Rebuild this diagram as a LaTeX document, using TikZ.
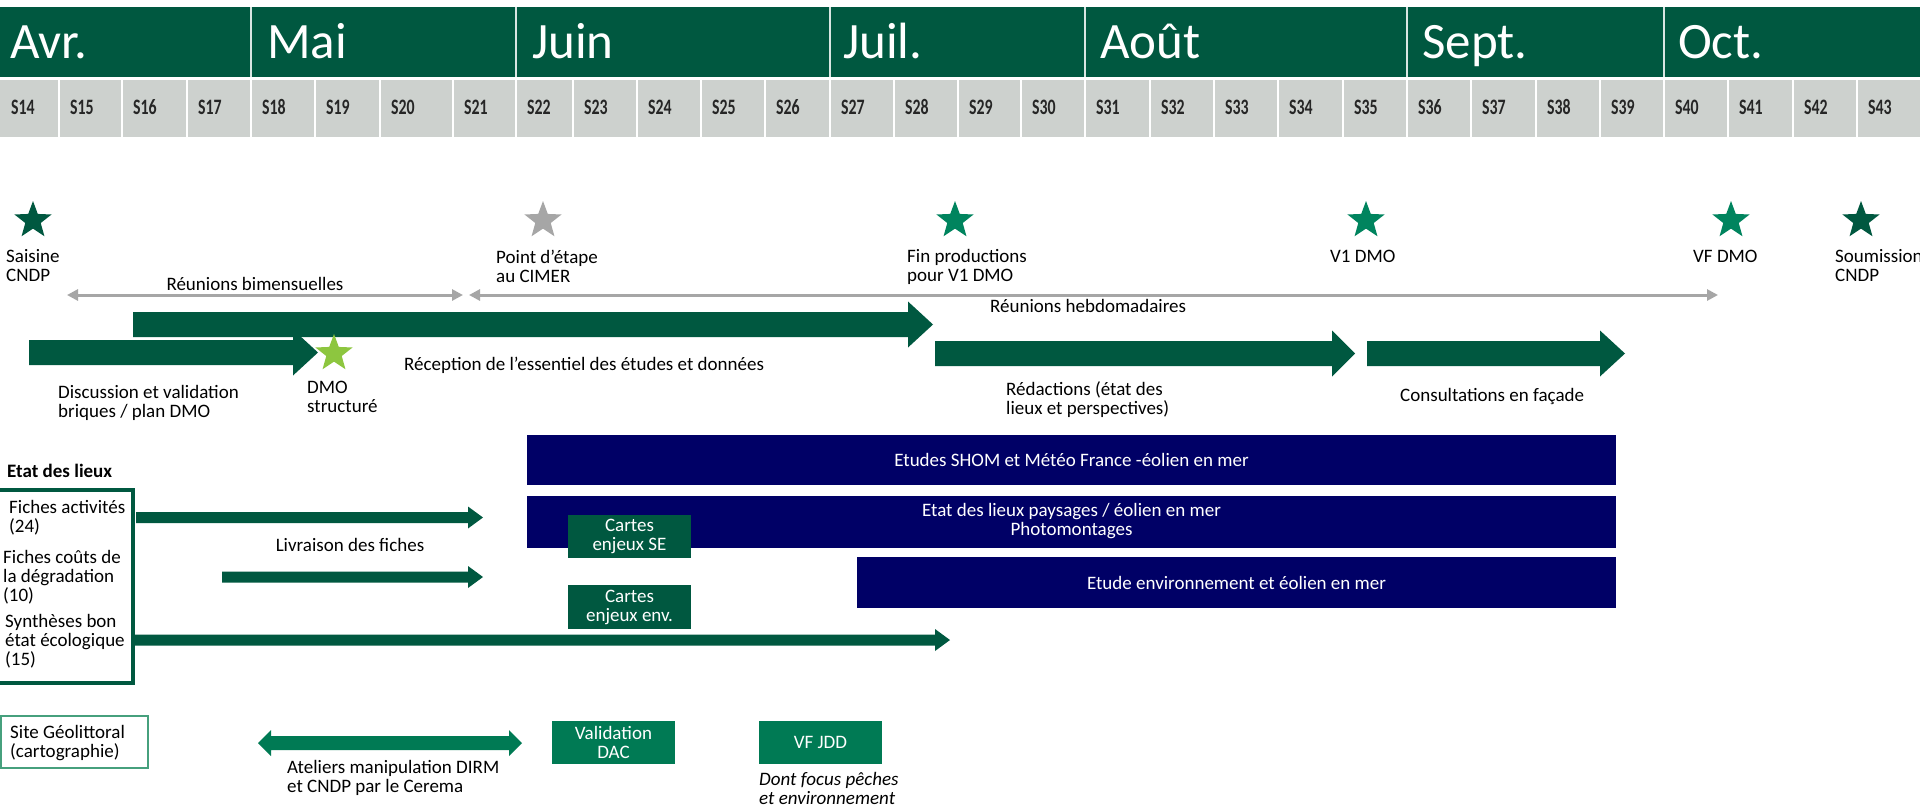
\documentclass[tikz,border=0pt]{standalone}
\usepackage{fontspec}
\usepackage{graphicx}
\setmainfont{Carlito}
\usetikzlibrary{shapes.geometric,arrows.meta}
\definecolor{dkgreen}{RGB}{0,88,64}
\definecolor{mdgreen}{RGB}{0,122,84}
\definecolor{stargreen}{RGB}{0,132,94}
\definecolor{ltgreen}{RGB}{141,198,63}
\definecolor{stargray}{RGB}{166,166,166}
\definecolor{navy}{RGB}{0,0,102}
\definecolor{bandgray}{RGB}{205,209,206}
\definecolor{sitegreen}{RGB}{70,160,125}
\newcommand{\bodyfont}{\fontsize{19}{19}\selectfont}
\newcommand{\monthfont}{\fontsize{51}{51}\selectfont}
\newcommand{\weekfont}{\fontsize{22}{22}\selectfont\bfseries}
\newcommand{\blkarrow}[7]{\fill[#1] (#2,#4-#5) -- (#3-#7,#4-#5) -- (#3-#7,#4-#6) -- (#3,#4) -- (#3-#7,#4+#6) -- (#3-#7,#4+#5) -- (#2,#4+#5) -- cycle;}
\tikzset{
  bodytxt/.style={font=\bodyfont, align=left, inner sep=0pt, text=black},
  monthlbl/.style={font=\monthfont, text=white, inner sep=0pt},
  weeklbl/.style={font=\weekfont, text=black!85, inner sep=0pt},
  starbase/.style={star, star points=5, star point ratio=2.4, minimum size=39pt, inner sep=0pt},
  navybar/.style={fill=navy, text=white, font=\bodyfont, align=center, inner sep=0pt},
  grbox/.style={fill=dkgreen, text=white, font=\bodyfont, align=center, inner sep=0pt, minimum width=123pt},
  mdbox/.style={fill=mdgreen, text=white, font=\bodyfont, align=center, inner sep=0pt, minimum width=123pt, minimum height=43pt},
  grayarr/.style={draw=stargray, line width=3pt, {Triangle[length=11pt,width=11pt]}-{Triangle[length=11pt,width=11pt]}}
}
\begin{document}
\begin{tikzpicture}[x=1pt,y=-1pt]
\useasboundingbox (0,0) rectangle (1920,807);
\fill[white] (0,0) rectangle (1920,807);
% header bands
\fill[dkgreen] (0,7) rectangle (1920,77);
\fill[bandgray] (0,80) rectangle (1920,137);
\foreach \x in {251,516,830,1085,1407,1664}
  \draw[white!85!dkgreen, line width=2pt] (\x,7) -- (\x,77);
\foreach \x in {59,122,187,251,315,380,453,516,573,637,701,765,830,894,958,1021,1085,1150,1214,1278,1343,1407,1471,1536,1600,1664,1728,1793,1857}
  \draw[white, line width=2.5pt] (\x,80) -- (\x,137);
\node[monthlbl, anchor=base west] (mavr) at (10,58) {Avr.};
\node[monthlbl, anchor=base west] (mmai) at (267,58) {Mai};
\node[monthlbl, anchor=base west] (mjuin) at (532,58) {Juin};
\node[monthlbl, anchor=base west] (mjuil) at (843,58) {Juil.};
\node[monthlbl, anchor=base west] (maout) at (1100,58) {Août};
\node[monthlbl, anchor=base west] (msept) at (1422,58) {Sept.};
\node[monthlbl, anchor=base west] (moct) at (1678,58) {Oct.};
\foreach \x [count=\i from 14] in {0,59,122,187,251,315,380,453,516,573,637,701,765,830,894,958,1021,1085,1150,1214,1278,1343,1407,1471,1536,1600,1664,1728,1793,1857}
  \node[weeklbl, anchor=west] (w\i) at (\x+11,107) {\scalebox{0.72}[1]{S\i}};
% stars
\node[starbase, fill=dkgreen] (s1) at (33,220.5) {};
\node[starbase, fill=stargray] (s2) at (543,220.5) {};
\node[starbase, fill=stargreen] (s3) at (955,220.5) {};
\node[starbase, fill=stargreen] (s4) at (1366,220.5) {};
\node[starbase, fill=stargreen] (s5) at (1731,220.5) {};
\node[starbase, fill=dkgreen] (s6) at (1861,220.5) {};
\node[bodytxt, anchor=base west] (t1) at (6,281) {Saisine\\CNDP};
\node[bodytxt, anchor=base west] (t2) at (496,282) {Point d’étape\\au CIMER};
\node[bodytxt, anchor=base west] (t3) at (907,281) {Fin productions\\pour V1 DMO};
\node[bodytxt, anchor=base west] (t4) at (1330,262) {V1 DMO};
\node[bodytxt, anchor=base west] (t5) at (1693,262) {VF DMO};
\node[bodytxt, anchor=base west] (t6) at (1835,281) {Soumission\\CNDP};
% meeting arrows
\coordinate (rb1) at (67,295);
\coordinate (rb2) at (463,295);
\coordinate (rh1) at (469,295);
\coordinate (rh2) at (1718,295);
\draw[grayarr] (rb1) -- (rb2);
\draw[grayarr] (rh1) -- (rh2);
\node[bodytxt, anchor=base] (lbim) at (255,290) {Réunions bimensuelles};
\node[bodytxt, anchor=base west] (lheb) at (990,312) {Réunions hebdomadaires};
% big arrows
\blkarrow{dkgreen}{29}{318}{352.5}{12.5}{23}{25}
\blkarrow{dkgreen}{133}{933}{324.5}{12.5}{23}{25}
\blkarrow{dkgreen}{935}{1355}{353.5}{12.5}{23}{23}
\blkarrow{dkgreen}{1367}{1625}{353.5}{12.5}{23}{25}
\node[starbase, fill=ltgreen] (s7) at (334,353.5) {};
\node[bodytxt, anchor=base west] (lrec) at (404,370) {Réception de l’essentiel des études et données};
\node[bodytxt, anchor=base west] (ldmo) at (307,412) {DMO\\structuré};
\node[bodytxt, anchor=base west] (ldisc) at (58,417) {Discussion et validation\\briques / plan DMO};
\node[bodytxt, anchor=base west] (lred) at (1006,414) {Rédactions (état des\\lieux et perspectives)};
\node[bodytxt, anchor=base west] (lcons) at (1400,401) {Consultations en façade};
% navy bars
\node[navybar, minimum width=1089pt, minimum height=50pt] (bar1) at (1071.5,460) {Etudes SHOM et Météo France -éolien en mer};
\node[navybar, minimum width=1089pt, minimum height=52pt] (bar2) at (1071.5,521.5) {Etat des lieux paysages / éolien en mer\\Photomontages};
\node[navybar, minimum width=759pt, minimum height=51pt] (bar3) at (1236.5,582.5) {Etude environnement et éolien en mer};
\node[grbox, minimum height=43pt] (cse) at (629.5,536.5) {Cartes\\enjeux SE};
\node[grbox, minimum height=44pt] (cenv) at (629.5,607) {Cartes\\enjeux env.};
% etat des lieux
\node[font=\bodyfont\bfseries, anchor=base west, inner sep=0pt] (ledl) at (7,477) {Etat des lieux};
\node[draw=dkgreen, line width=4pt, minimum width=138pt, minimum height=193pt, inner sep=0pt] (etatbox) at (64,586.5) {};
\node[bodytxt, anchor=base west] (lfa) at (9,532) {Fiches activités\\(24)};
\node[bodytxt, anchor=base west] (lfc) at (3,601) {Fiches coûts de\\la dégradation\\(10)};
\node[bodytxt, anchor=base west] (lsy) at (5,665) {Synthèses bon\\état écologique\\(15)};
\blkarrow{dkgreen}{136}{483}{517.5}{5.5}{11}{15}
\blkarrow{dkgreen}{222}{483}{577}{5.5}{11}{15}
\blkarrow{dkgreen}{131}{950}{640}{5.5}{11}{15}
\node[bodytxt, anchor=base] (lliv) at (350,551) {Livraison des fiches};
% bottom row
\node[draw=sitegreen, line width=2pt, fill=white, minimum width=147pt, minimum height=52pt, inner sep=0pt] (site) at (74.5,742) {};
\node[bodytxt, anchor=base west] (lsite) at (10,757) {Site Géolittoral\\(cartographie)};
\fill[mdgreen] (258,743) -- (271,730) -- (271,736) -- (509,736) -- (509,730) -- (522,743) -- (509,756) -- (509,750) -- (271,750) -- (271,756) -- cycle;
\node[bodytxt, anchor=base west] (latel) at (287,792) {Ateliers manipulation DIRM\\et CNDP par le Cerema};
\node[mdbox] (vdac) at (613.5,742.5) {Validation\\DAC};
\node[mdbox] (vjdd) at (820.5,742.5) {VF JDD};
\node[bodytxt, anchor=base west, font=\bodyfont\itshape] (ldont) at (759,804) {Dont focus pêches\\et environnement};
\end{tikzpicture}
\end{document}
